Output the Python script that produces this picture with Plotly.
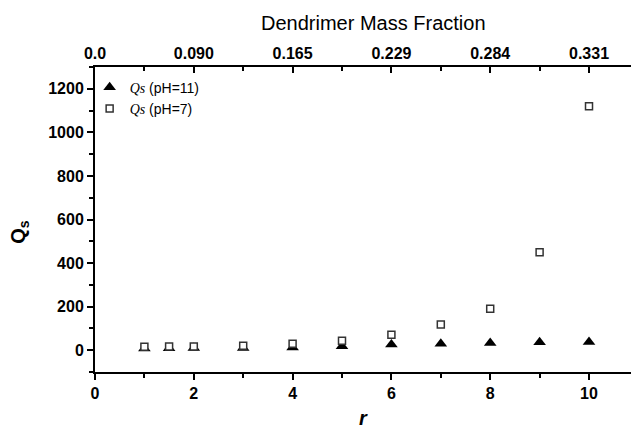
import plotly.graph_objects as go

# Data
r_ph11 = [1, 1.5, 2, 3, 4, 5, 6, 7, 8, 9, 10]
qs_ph11 = [8, 9, 10, 10, 12, 18, 26, 30, 33, 37, 38]
r_ph7 = [1, 1.5, 2, 3, 4, 5, 6, 7, 8, 9, 10]
qs_ph7 = [16, 17, 17, 21, 30, 44, 71, 118, 190, 450, 1120]
top_tick_pos = [0, 2, 4, 6, 8, 10]
top_tick_text = ["0.0", "0.090", "0.165", "0.229", "0.284", "0.331"]

FONT = "Liberation Sans, Arial, sans-serif"

fig = go.Figure()
fig.add_trace(go.Scatter(
    x=r_ph11, y=qs_ph11, mode="markers",
    name="<span style='font-family:Liberation Serif'><i>Qs</i></span> (pH=11)",
    marker=dict(symbol="triangle-up", size=11, color="black", line=dict(width=0)),
))
fig.add_trace(go.Scatter(
    x=r_ph7, y=qs_ph7, mode="markers",
    name="<span style='font-family:Liberation Serif'><i>Qs</i></span> (pH=7)",
    marker=dict(symbol="square", size=7, color="white", line=dict(width=1.5, color="#333333")),
))
# invisible trace to enable top axis
fig.add_trace(go.Scatter(x=[0], y=[None], xaxis="x2", showlegend=False, hoverinfo="skip"))

xrange = [0, 10.85]
fig.update_layout(
    width=631, height=429,
    margin=dict(l=95, r=0, t=67, b=57),
    plot_bgcolor="white", paper_bgcolor="white",
    font=dict(family=FONT, color="black"),
    showlegend=True,
    legend=dict(x=-0.01, y=0.985, xanchor="left", yanchor="top",
                bgcolor="rgba(0,0,0,0)", font=dict(size=14, family=FONT),
                itemwidth=30, tracegroupgap=0),
    xaxis=dict(
        range=xrange, showgrid=False, zeroline=False,
        showline=True, linecolor="black", linewidth=2,
        ticks="outside", ticklen=6, tickwidth=1.5, tickcolor="black",
        tick0=0, dtick=2,
        minor=dict(ticks="outside", ticklen=4, tickwidth=1.5, tickcolor="black", dtick=1),
        tickfont=dict(size=16, family=FONT, weight="bold"),
        title=dict(text="<b><i>r</i></b>", font=dict(size=20, family=FONT), standoff=10),
    ),
    xaxis2=dict(
        range=xrange, overlaying="x", side="top", showgrid=False, zeroline=False,
        showline=True, linecolor="black", linewidth=2,
        tickmode="array", tickvals=top_tick_pos, ticktext=top_tick_text,
        ticks="inside", ticklen=6, tickwidth=1.5, tickcolor="black",
        minor=dict(ticks="inside", ticklen=4, tickwidth=1.5, tickcolor="black",
                   tickmode="linear", tick0=0, dtick=1),
        tickfont=dict(size=16, family=FONT, weight="bold"),
    ),
    yaxis=dict(
        range=[-100, 1300], showgrid=False, zeroline=False,
        showline=True, linecolor="black", linewidth=2,
        ticks="outside", ticklen=6, tickwidth=1.5, tickcolor="black",
        tick0=0, dtick=200,
        minor=dict(ticks="outside", ticklen=4, tickwidth=1.5, tickcolor="black", dtick=100),
        tickfont=dict(size=16, family=FONT, weight="bold"),
    ),
    annotations=[
        dict(text="Dendrimer Mass Fraction", xref="paper", yref="paper",
             x=0.52, y=1.0, yshift=44, xanchor="center", yanchor="middle",
             showarrow=False, font=dict(size=20, family=FONT, color="black")),
        dict(text="<b>Q<sub>s</sub></b>", xref="paper", yref="paper",
             x=0, xshift=-75, y=0.46, xanchor="center", yanchor="middle",
             textangle=-90, showarrow=False,
             font=dict(size=20, family=FONT, color="black")),
    ],
)
fig.write_html("out.html")
